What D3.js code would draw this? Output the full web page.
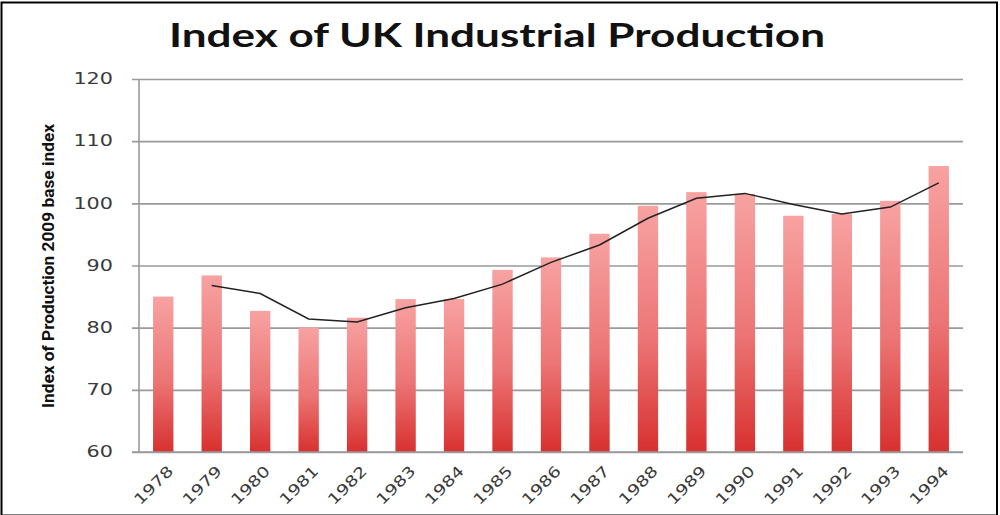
<!DOCTYPE html>
<html>
<head>
<meta charset="utf-8">
<script src="https://cdn.jsdelivr.net/npm/d3@7"></script>
<style>
  html, body { margin: 0; padding: 0; background: #fff; }
  svg { display: block; }
</style>
</head>
<body>
<svg id="chart" width="1000" height="515"></svg>
<script>
// Index of UK industrial production (2009 = 100), annual
const years = ["1978","1979","1980","1981","1982","1983","1984","1985","1986",
               "1987","1988","1989","1990","1991","1992","1993","1994"];
const indexValues = [85.0, 88.4, 82.7, 80.0, 81.6, 84.6, 84.6, 89.3, 91.3,
                     95.1, 99.6, 101.8, 101.5, 98.0, 98.3, 100.4, 106.0];
// Two-year trend line, from 1979 onwards
const trendYears = ["1979","1980","1981","1982","1983","1984","1985","1986",
                    "1987","1988","1989","1990","1991","1992","1993","1994"];
const trendValues = [86.8, 85.5, 81.4, 80.9, 83.2, 84.7, 87.0, 90.5,
                     93.3, 97.6, 100.8, 101.6, 99.8, 98.3, 99.4, 103.3];
const yTicks = [60, 70, 80, 90, 100, 110, 120];

const svg = d3.select("#chart");
const m = { left: 139, right: 963, top: 79, bottom: 452 };

// Frame around the whole graphic
svg.append("rect")
  .attr("x", 1.5).attr("y", 2.5).attr("width", 995.5).attr("height", 513)
  .attr("fill", "#fff").attr("stroke", "#000").attr("stroke-width", 2);

const defs = svg.append("defs");
const grad = defs.append("linearGradient")
  .attr("id", "barFill").attr("x1", 0).attr("y1", 0).attr("x2", 0).attr("y2", 1);
grad.append("stop").attr("offset", "0%").attr("stop-color", "#f8a2a2");
grad.append("stop").attr("offset", "55%").attr("stop-color", "#ec7474");
grad.append("stop").attr("offset", "100%").attr("stop-color", "#d8302f");
defs.append("filter").attr("id", "soft")
  .append("feGaussianBlur").attr("stdDeviation", 0.6);

const x = d3.scaleBand().domain(years).range([m.left, m.right]).paddingInner(0.58).paddingOuter(0.29);
const y = d3.scaleLinear().domain([60, 120]).range([m.bottom, m.top]);

// Title
svg.append("text")
  .attr("x", 497).attr("y", 47)
  .attr("text-anchor", "middle")
  .attr("font-family", "Lato, 'Open Sans', sans-serif")
  .attr("font-weight", 700)
  .attr("font-size", 33)
  .attr("fill", "#111")
  .attr("textLength", 656).attr("lengthAdjust", "spacingAndGlyphs")
  .text("Index of UK Industrial Production");

// Horizontal gridlines with short ticks to the left of the axis
const yAxis = d3.axisLeft(y).tickValues(yTicks).tickSize(-(m.right - m.left)).tickSizeOuter(0).tickPadding(26);
const gy = svg.append("g").attr("transform", `translate(${m.left},0)`).call(yAxis);
gy.select(".domain").remove();
gy.selectAll(".tick line")
  .attr("x1", -7)
  .attr("stroke", "#9a9a9a").attr("stroke-width", 1.6);
gy.selectAll(".tick text")
  .attr("font-family", "'DejaVu Sans', sans-serif")
  .attr("font-size", 15)
  .attr("fill", "#3a3a3a")
  .attr("textLength", d => String(d).length * 13.2)
  .attr("lengthAdjust", "spacingAndGlyphs");

// Vertical axis line
svg.append("line")
  .attr("x1", m.left).attr("x2", m.left)
  .attr("y1", m.top).attr("y2", m.bottom)
  .attr("stroke", "#9a9a9a").attr("stroke-width", 1.6);

// Bars
svg.append("g").attr("filter", "url(#soft)")
  .selectAll("rect").data(years).join("rect")
  .attr("x", d => x(d))
  .attr("width", x.bandwidth())
  .attr("y", (d, i) => y(indexValues[i]))
  .attr("height", (d, i) => y(60) - y(indexValues[i]))
  .attr("fill", "url(#barFill)");

// Baseline drawn over the bars
svg.append("line")
  .attr("x1", m.left - 7).attr("x2", m.right)
  .attr("y1", y(60)).attr("y2", y(60))
  .attr("stroke", "#9a9a9a").attr("stroke-width", 1.6);

// Trend line
const line = d3.line()
  .x(d => x(d[0]) + x.bandwidth() / 2)
  .y(d => y(d[1]));
svg.append("path")
  .datum(trendYears.map((d, i) => [d, trendValues[i]]))
  .attr("d", line)
  .attr("fill", "none")
  .attr("stroke", "#222")
  .attr("stroke-width", 1.5);

// Year labels, rotated
const xAxis = d3.axisBottom(x).tickSize(0).tickPadding(0);
const gx = svg.append("g").attr("transform", `translate(0,${m.bottom})`).call(xAxis);
gx.select(".domain").remove();
gx.selectAll(".tick text")
  .attr("font-family", "'DejaVu Sans', sans-serif")
  .attr("font-size", 15)
  .attr("fill", "#3a3a3a")
  .attr("text-anchor", "end")
  .attr("dy", 0)
  .attr("transform", "translate(3,12) rotate(-45)")
  .attr("y", 0).attr("x", 0)
  .attr("dominant-baseline", "hanging")
  .attr("textLength", 48)
  .attr("lengthAdjust", "spacingAndGlyphs");

// Y axis title
svg.append("text")
  .attr("transform", `translate(54,266) rotate(-90)`)
  .attr("text-anchor", "middle")
  .attr("font-family", "'Liberation Sans Narrow', 'Roboto', sans-serif")
  .attr("font-weight", 700)
  .attr("font-size", 17)
  .attr("fill", "#111")
  .attr("textLength", 284).attr("lengthAdjust", "spacingAndGlyphs")
  .text("Index of Production 2009 base index");
</script>
</body>
</html>
